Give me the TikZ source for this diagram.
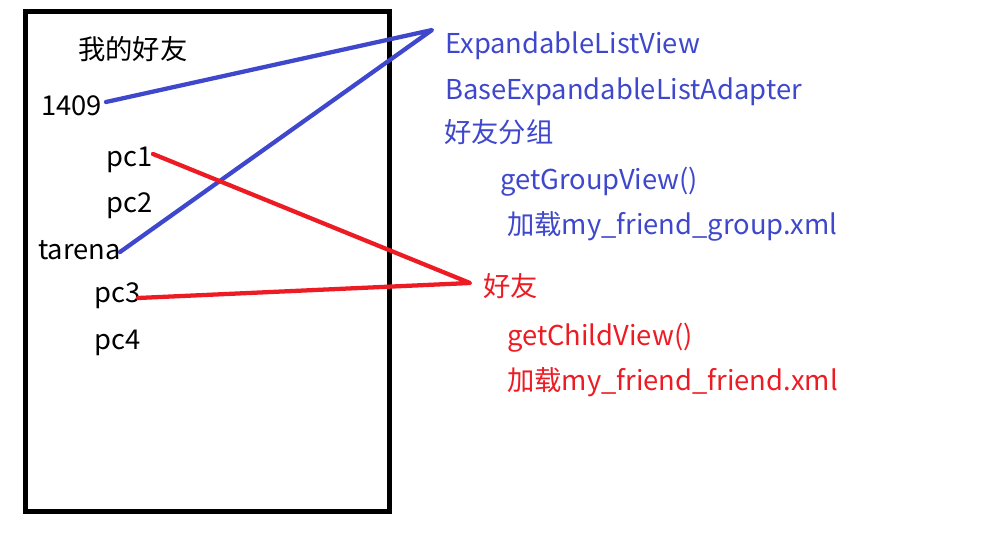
\documentclass[tikz,border=0pt]{standalone}
\usepackage{fontspec}
\setmainfont{Noto Sans CJK SC}
\definecolor{lblue}{HTML}{3F48CC}
\definecolor{lred}{HTML}{ED1C24}
\begin{document}
\begin{tikzpicture}[x=0.75pt,y=-0.75pt,
  txt/.style={anchor=base west,inner sep=0pt,font=\fontsize{20.5pt}{24pt}\selectfont},
  bl/.style={txt,text=lblue},
  rd/.style={txt,text=lred},
  bline/.style={draw=lblue,line width=3.2pt,line cap=round,line join=round},
  rline/.style={draw=lred,line width=3.2pt,line cap=round,line join=round}]
\useasboundingbox (0,0) rectangle (1002,553);
\fill[white] (0,0) rectangle (1002,553);
\node[draw=black,line width=3.75pt,minimum width=364*0.75pt,minimum height=500*0.75pt,inner sep=0pt] (box) at (207.5,261.5) {};
% left texts
\node[txt] (title) at (78,59) {我的好友};
\node[txt] (n1409) at (41,115) {1409};
\node[txt] (pc1) at (106,166) {pc1};
\node[txt] (pc2) at (106,212) {pc2};
\node[txt] (tarena) at (38,259) {tarena};
\node[txt] (pc3) at (94,302) {pc3};
\node[txt] (pc4) at (94,349) {pc4};
% right texts
\node[bl] (elv) at (445,53) {ExpandableListView};
\node[bl] (bela) at (445,99) {BaseExpandableListAdapter};
\node[bl] (group) at (444,142) {好友分组};
\node[bl] (ggv) at (500,189) {getGroupView()};
\node[bl] (lg) at (507,234) {加载my\_friend\_group.xml};
\node[rd] (friend) at (483,296) {好友};
\node[rd] (gcv) at (507,345) {getChildView()};
\node[rd] (lf) at (507,390) {加载my\_friend\_friend.xml};
% connector ends
\coordinate (apexB) at (432,30);
\coordinate (apexR) at (470,283);
\coordinate (e1409) at (106,102);
\coordinate (etar) at (120,252);
\coordinate (epc1) at (153,154);
\coordinate (epc3) at (138,298);
\draw[bline] (e1409) -- (apexB) -- (etar);
\draw[rline] (epc1) -- (apexR) -- (epc3);
\end{tikzpicture}
\end{document}
